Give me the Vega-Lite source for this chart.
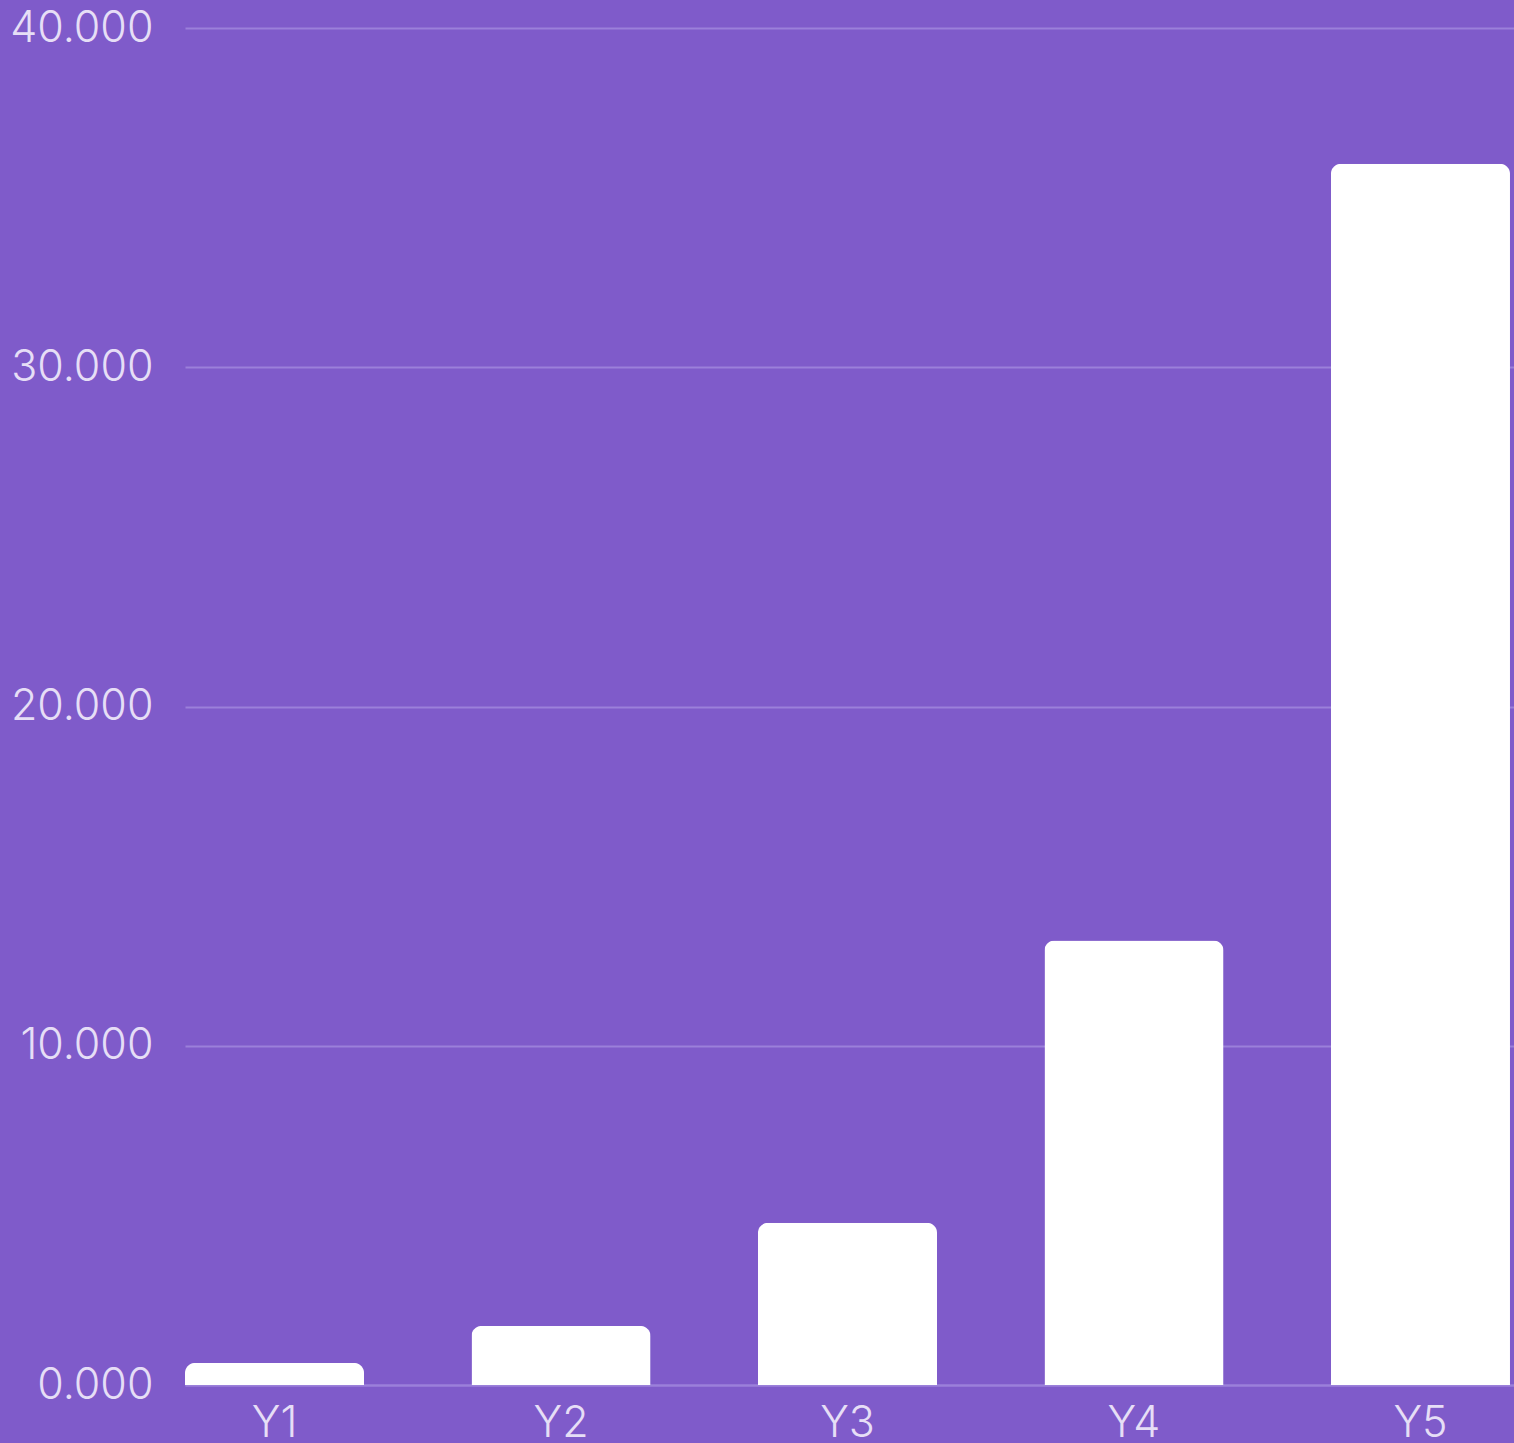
{
  "$schema": "https://vega.github.io/schema/vega-lite/v6.json",
  "autosize": {"type": "none"},
  "width": 1329,
  "height": 1357,
  "padding": {"left": 185, "top": 28, "right": 0, "bottom": 58},
  "background": "#7F5BCA",
  "config": {
    "view": {"stroke": null},
    "axis": {"labelFont": "Inter", "labelFontWeight": 300, "labelColor": "#E6DEF6", "labelFontSize": 43}
  },
  "data": {
    "values": [
      {"year": "Y1", "value": 0.65},
      {"year": "Y2", "value": 1.74},
      {"year": "Y3", "value": 4.78},
      {"year": "Y4", "value": 13.1},
      {"year": "Y5", "value": 36.0}
    ]
  },
  "mark": {"type": "bar", "color": "#FFFFFF", "cornerRadiusTopLeft": 10, "cornerRadiusTopRight": 10},
  "encoding": {
    "x": {
      "field": "year", "type": "nominal", "title": null,
      "scale": {"paddingInner": 0.375, "paddingOuter": 0.007, "align": 0},
      "axis": {"labelAngle": 0, "ticks": false, "labelPadding": 17, "domainColor": "#9B80DA", "domainWidth": 2, "grid": false}
    },
    "y": {
      "field": "value", "type": "quantitative", "title": null,
      "scale": {"domain": [0, 40]},
      "axis": {"values": [0, 10, 20, 30, 40], "format": ".3f", "ticks": false, "domain": false, "labelPadding": 32, "gridColor": "#9B80DA", "gridWidth": 2}
    }
  }
}
